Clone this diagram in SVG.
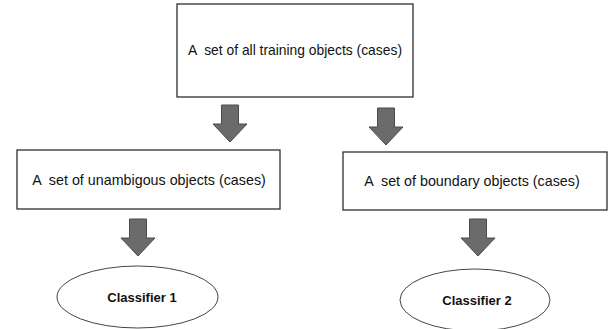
<svg xmlns="http://www.w3.org/2000/svg" width="611" height="329" viewBox="0 0 611 329">
<style>
.box{fill:#fff;stroke:#2e2e2e;stroke-width:1.3}
.ell{fill:#fff;stroke:#444;stroke-width:1}
.t{font-family:"Liberation Sans",Arial,sans-serif;font-size:14.3px;fill:#111;text-anchor:middle;white-space:pre}
.b{font-family:"Liberation Sans",Arial,sans-serif;font-size:13px;font-weight:bold;fill:#111;text-anchor:middle}
.arr{fill:#6b6b6b;stroke:#4a4a4a;stroke-width:1}
</style>
<defs>
<path id="down" d="M-8.5,0 H8.5 V19 H17 L0,37 L-17,19 H-8.5 Z"/>
</defs>
<rect width="611" height="329" fill="#fff"/>
<g id="connectors">
<use href="#down" class="arr" x="230" y="105"/>
<use href="#down" class="arr" x="386" y="108"/>
<use href="#down" class="arr" x="138" y="219"/>
<use href="#down" class="arr" x="478" y="219"/>
</g>
<g id="all">
<rect class="box" x="177" y="4" width="236" height="93"/>
<text class="t" x="295" y="55" textLength="214" lengthAdjust="spacingAndGlyphs" xml:space="preserve">A  set of all training objects (cases)</text>
</g>
<g id="unambiguous">
<rect class="box" x="17" y="150" width="263" height="59"/>
<text class="t" x="149" y="185" xml:space="preserve">A  set of unambigous objects (cases)</text>
</g>
<g id="boundary">
<rect class="box" x="343" y="152" width="264" height="58"/>
<text class="t" x="472" y="186" xml:space="preserve">A  set of boundary objects (cases)</text>
</g>
<g id="classifier1">
<ellipse class="ell" cx="137.5" cy="297" rx="80.5" ry="31"/>
<text class="b" x="142" y="302">Classifier 1</text>
</g>
<g id="classifier2">
<ellipse class="ell" cx="475" cy="300" rx="75" ry="31"/>
<text class="b" x="477" y="305">Classifier 2</text>
</g>
</svg>
